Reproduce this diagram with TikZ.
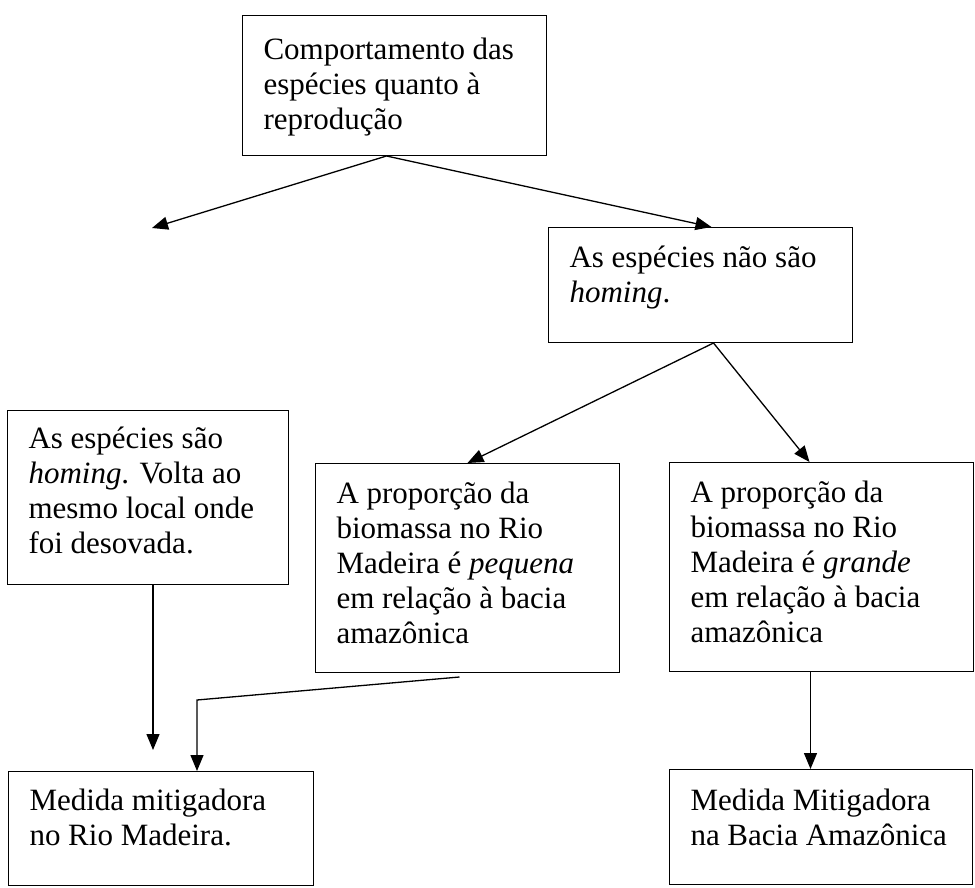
\documentclass[tikz,border=0pt]{standalone}
\usepackage{fontspec}
\setmainfont{Liberation Serif}
\usetikzlibrary{arrows.meta}

% texto alinhado ao topo dentro da caixa: largura, altura, espaco no topo, texto
\newcommand{\conteudo}[4]{\parbox[c][#2][t]{#1}{\raggedright\leftskip=21pt\vspace*{#3}\strut #4}}

\begin{document}
\begin{tikzpicture}[x=1pt, y=-1pt,
    caixa/.style={draw, line width=1pt, anchor=north west, inner sep=0pt,
      font=\fontsize{31}{35}\selectfont},
    seta/.style={line width=1.3pt, -{Triangle[length=16pt, width=13pt]}}]
      \useasboundingbox (0,0) rectangle (975,888);

      % Caixas
      \node[caixa] (repr) at (242,15) {\conteudo{304pt}{140pt}{20pt}{Comportamento das\\ esp\'ecies quanto \`a\\ reprodu\c{c}\~ao}};
      \node[caixa] (naohom) at (548,227) {\conteudo{304pt}{115pt}{15.5pt}{As esp\'ecies n\~ao s\~ao\\ \textit{homing}.}};
      \node[caixa] (hom) at (7,410) {\conteudo{281pt}{174pt}{13.5pt}{As esp\'ecies s\~ao\\ \textit{homing}. Volta ao\\ mesmo local onde\\ foi desovada.}};
      \node[caixa] (pequena) at (315,463) {\conteudo{304pt}{209pt}{15.5pt}{A propor\c{c}\~ao da\\ biomassa no Rio\\ Madeira \'e \textit{pequena}\\ em rela\c{c}\~ao \`a bacia\\ amaz\^onica}};
      \node[caixa] (grande) at (669,462) {\conteudo{304pt}{209pt}{15.5pt}{A propor\c{c}\~ao da\\ biomassa no Rio\\ Madeira \'e \textit{grande}\\ em rela\c{c}\~ao \`a bacia\\ amaz\^onica}};
      \node[caixa] (medrio) at (8,771) {\conteudo{305pt}{114pt}{14.5pt}{Medida mitigadora\\ no Rio Madeira.}};
      \node[caixa] (medbacia) at (669,769) {\conteudo{303pt}{115pt}{16pt}{Medida Mitigadora\\ na Bacia Amaz\^onica}};

      % Pontos livres
      \coordinate (vazio) at (152,228);
      \coordinate (fimhom) at (153,750);
      \coordinate (dobra) at (197,700);

      % Setas
      \draw[seta] ([xshift=-8pt]repr.south) -- (vazio);
      \draw[seta] ([xshift=-8pt]repr.south) -- ([xshift=11pt]naohom.north);
      \draw[seta] ([xshift=13pt]naohom.south) -- (pequena.north);
      \draw[seta] ([xshift=13pt]naohom.south) -- ([xshift=-12pt]grande.north);
      \draw[seta] (hom.south -| fimhom) -- (fimhom);
      \draw[seta] ([xshift=-8pt,yshift=-4pt]pequena.south) -- (dobra) -- (dobra |- medrio.north);
      \draw[seta] ([xshift=-11pt]grande.south) -- ([xshift=-11pt]grande.south |- medbacia.north);
\end{tikzpicture}
\end{document}
